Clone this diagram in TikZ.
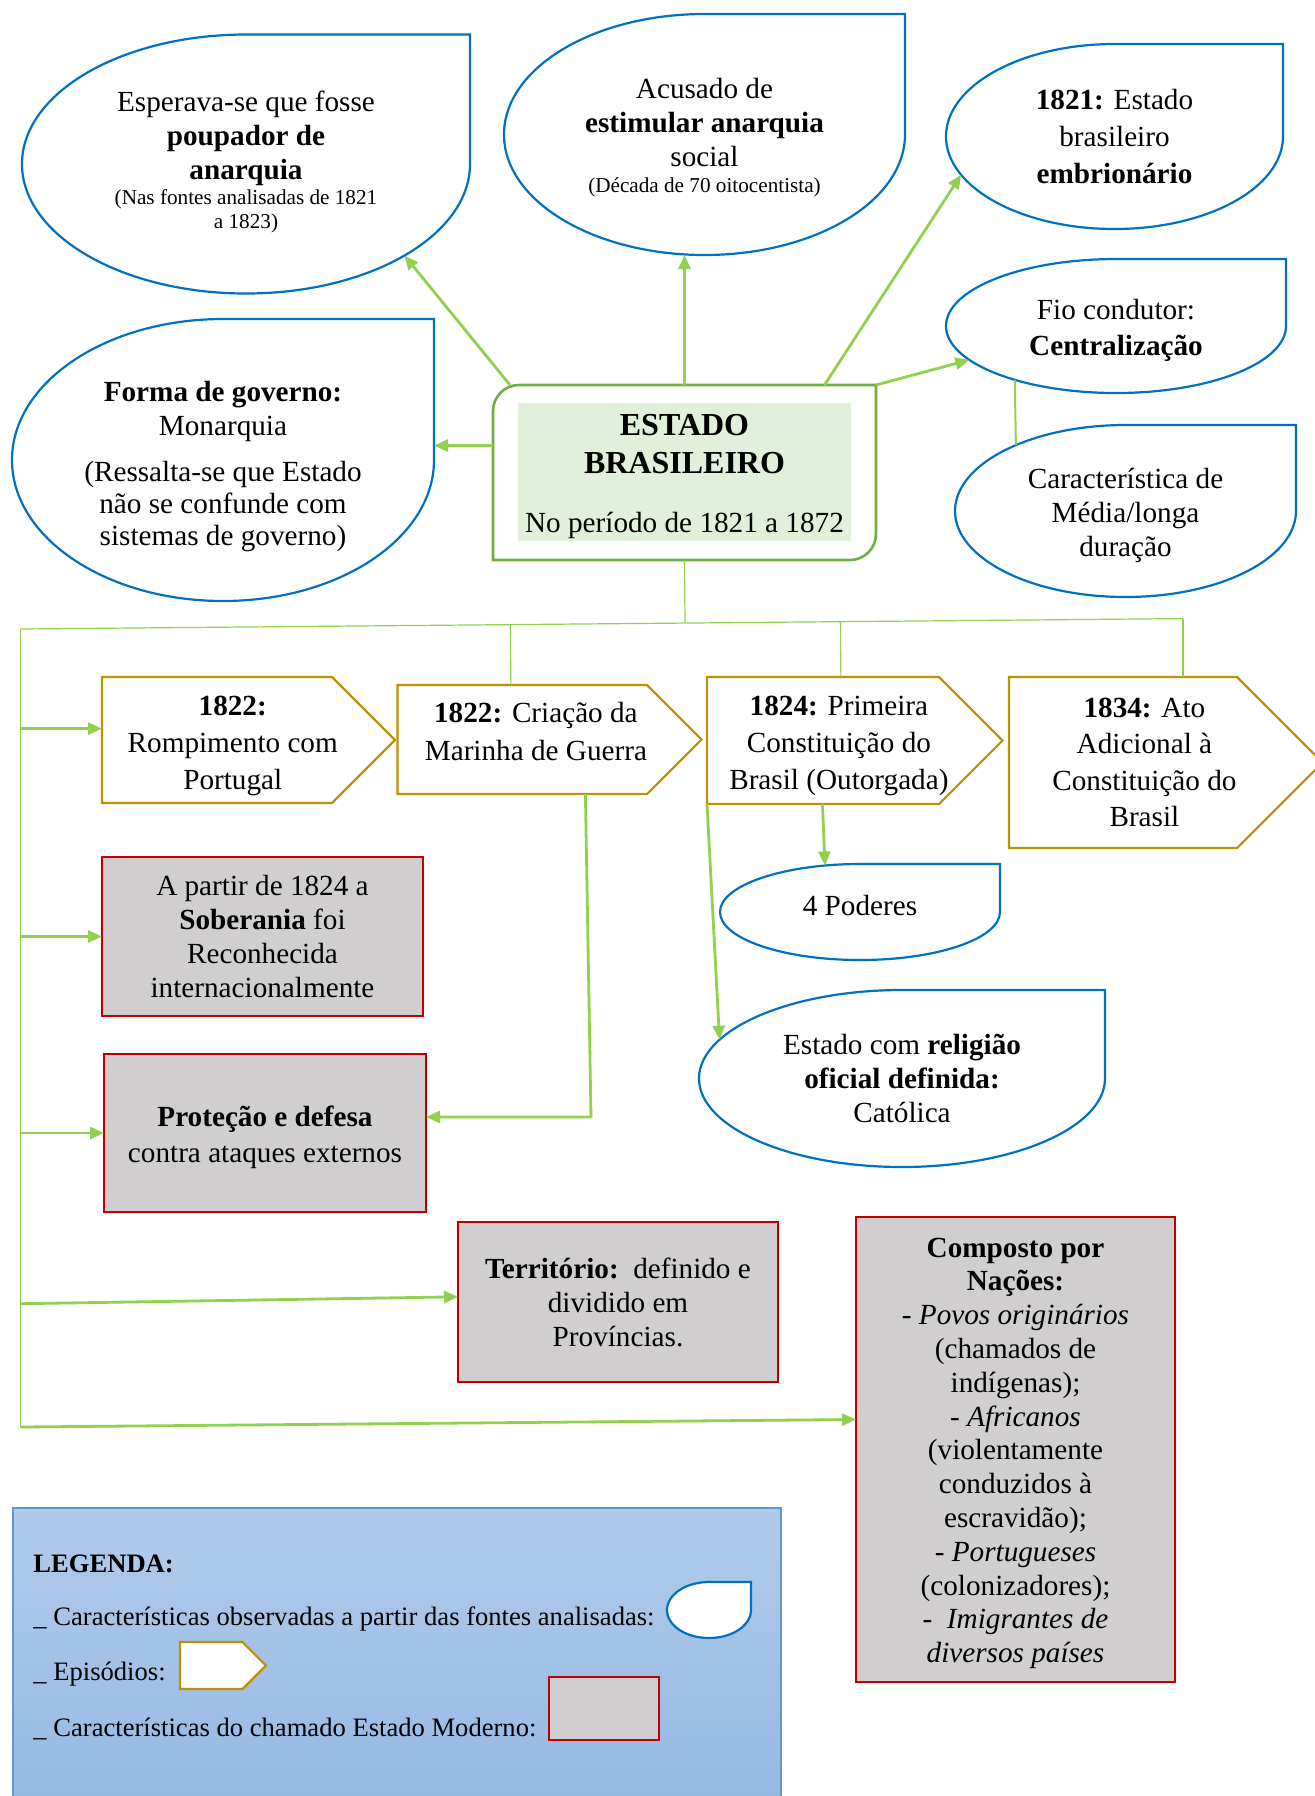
\documentclass[tikz,border=0pt]{standalone}
\usepackage{fontspec}
\setmainfont{Liberation Serif}
\usetikzlibrary{shapes.geometric, arrows.meta, calc}

\definecolor{azul}{HTML}{0070C0}
\definecolor{verdeseta}{HTML}{92D050}
\definecolor{verdeborda}{HTML}{70AD47}
\definecolor{verdeclaro}{HTML}{E2EFDA}
\definecolor{ouro}{HTML}{BF9000}
\definecolor{vermelho}{HTML}{C00000}
\definecolor{cinza}{HTML}{D0CECE}
\definecolor{legtopo}{HTML}{B2CBEA}
\definecolor{legbase}{HTML}{95B9E3}
\definecolor{legborda}{HTML}{5B9BD5}

\newcommand{\textonormal}{\fontsize{14.6}{17}\selectfont}
\newcommand{\textopequeno}{\fontsize{10.6}{12.2}\selectfont}
\newcommand{\textotitulo}{\fontsize{16}{19}\selectfont\bfseries}
% apoios invisiveis para acertar a altura do texto
\newcommand{\topo}[1]{\rule{0pt}{#1}}
\newcommand{\fundo}[1]{\rule[-#1]{0pt}{#1}}

% contorno em gota: 3/4 de elipse com canto reto
\newcommand{\gotaborda}[2][]{%
  \draw[borda, #1] let \p1=(#2.east), \p2=(#2.north), \p3=(#2.center) in
    (\p1) arc[start angle=0, end angle=-270, x radius={\x1-\x3}, y radius={\y2-\y3}]
    -- (\x1,\y2) -- cycle;}
% contorno de episodio (seta pentagonal)
\newcommand{\episodioborda}[2][]{%
  \draw[episodio borda, #1] let \p1=(#2.north west), \p2=(#2.south east),
      \n1={(\y1-\y2)/4} in
    (\p1) -- (\x2-\n1,\y1) -- (\x2+\n1,{(\y1+\y2)/2}) -- (\x2-\n1,\y2) -- (\x1,\y2) -- cycle;}

\begin{document}
\begin{tikzpicture}[
    x=0.5pt, y=-0.5pt,
    >={Triangle[length=7pt,width=6pt]},
    gota/.style={ellipse, inner sep=0pt, outer sep=0pt, align=center, font=\textonormal},
    borda/.style={draw=azul, line width=1.1pt},
    episodio/.style={rectangle, inner sep=0pt, outer sep=0pt, align=center, font=\textonormal},
    episodio borda/.style={draw=ouro, line width=1.1pt},
    moderno/.style={rectangle, draw=vermelho, fill=cinza, line width=1.2pt,
                    inner sep=2pt, outer sep=0pt, align=center, font=\textonormal},
    seta/.style={->, draw=verdeseta, line width=1.4pt},
    ramo/.style={draw=verdeseta, line width=0.6pt},
    legtexto/.style={anchor=west, inner sep=0pt, font=\fontsize{13.3}{16}\selectfont}
  ]
    \useasboundingbox (0,0) rectangle (1314,1796);

    % caracteristicas (gotas)
    \node[gota, minimum width=224pt, minimum height=129.5pt] (esperava) at (246,164)
      {Esperava-se que fosse\\\textbf{poupador de}\\\textbf{anarquia}\\[-4.4pt]{\textopequeno (Nas fontes analisadas de 1821}\\[-5pt]{\textopequeno a 1823)\fundo{4.6pt}}};
    \node[gota, minimum width=200.5pt, minimum height=120.5pt] (acusado) at (704.5,134.5)
      {\topo{13.4pt}Acusado de\\\textbf{estimular anarquia}\\social\\[-4.3pt]{\textopequeno (Década de 70 oitocentista)}};
    \node[gota, minimum width=168.5pt, minimum height=92.5pt] (embrionario) at (1114.5,136.5)
      {\textbf{1821:} Estado\\[1.3pt]brasileiro\\[1.3pt]\textbf{embrionário}};
    \node[gota, minimum width=170pt, minimum height=67pt] (fio) at (1116,326)
      {\topo{14.6pt}Fio condutor:\\[0.7pt]\textbf{Centralização}};
    \node[gota, minimum width=170.5pt, minimum height=86pt] (caract) at (1125.5,511)
      {\topo{14.6pt}Característica de\\Média/longa\\duração};
    \node[gota, minimum width=211pt, minimum height=141pt] (forma) at (223,460)
      {\topo{16.9pt}\textbf{Forma de governo:}\\Monarquia\\[6pt](Ressalta-se que Estado\\[-1pt]não se confunde com\\[-1pt]sistemas de governo)};
    \node[gota, minimum width=140pt, minimum height=48pt] (poderes) at (860,912) {4 Poderes\fundo{6.9pt}};
    \node[gota, minimum width=203pt, minimum height=88.5pt] (religiao) at (902,1078.5)
      {Estado com \textbf{religião}\\\textbf{oficial definida:}\\Católica};
    \foreach \g in {esperava, acusado, embrionario, fio, caract, forma, poderes, religiao}
      {\gotaborda{\g}}

    % no central
    \node[minimum width=191.5pt, minimum height=87.5pt, inner sep=0pt, outer sep=0pt] (estado) at (684.5,472.5) {};
    \node[fill=verdeclaro, minimum width=166.5pt, minimum height=69pt, inner sep=0pt,
          align=center, font=\textonormal] (titulo) at (684.5,472)
      {\topo{15pt}{\textotitulo ESTADO}\\[2pt]{\textotitulo BRASILEIRO}\\[12.7pt]No período de 1821 a 1872};
    \draw[verdeborda, line width=1.3pt] (estado.south west) -- ([yshift=-13pt]estado.north west)
      arc[start angle=180, end angle=90, radius=13pt] -- (estado.north east)
      -- ([yshift=13pt]estado.south east) arc[start angle=0, end angle=-90, radius=13pt] -- cycle;

    % episodios
    \node[episodio, minimum width=130.75pt, minimum height=63pt] (rompimento) at (232.75,740)
      {\topo{15.7pt}\textbf{1822:}\\[1.3pt]Rompimento com\\[1.3pt]Portugal};
    \node[episodio, minimum width=138.4pt, minimum height=54.5pt] (marinha) at (535.9,739.5)
      {\textbf{1822:} Criação da\\[2pt]Marinha de Guerra\fundo{8pt}};
    \node[episodio, minimum width=131.9pt, minimum height=63.5pt] (constituicao) at (838.9,740.5)
      {\topo{15.1pt}\textbf{1824:} Primeira\\[1.3pt]Constituição do\\[1.3pt]Brasil (Outorgada)};
    \node[episodio, minimum width=135.4pt, minimum height=85.5pt] (ato) at (1144.4,762.5)
      {\textbf{1834:} Ato\\[1.1pt]Adicional à\\[1.1pt]Constituição do\\[1.1pt]Brasil};
    \foreach \e in {rompimento, marinha, constituicao, ato}
      {\episodioborda{\e}}

    % estado moderno
    \node[moderno, minimum width=160.5pt, minimum height=79.5pt] (soberania) at (262.5,936.5)
      {A partir de 1824 a\\\textbf{Soberania} foi\\Reconhecida\\internacionalmente};
    \node[moderno, minimum width=161pt, minimum height=79pt] (protecao) at (265,1133)
      {\topo{14.6pt}\textbf{Proteção e defesa}\\[1.3pt]contra ataques externos};
    \node[moderno, minimum width=160pt, minimum height=80pt] (territorio) at (618,1302)
      {\textbf{Território:}\ \ definido e\\dividido em\\Províncias.};
    \node[moderno, minimum width=159.5pt, minimum height=232.5pt, font=\fontsize{14.6}{16.9}\selectfont] (composto) at (1015.5,1449.5)
      {\topo{13.4pt}\textbf{Composto por}\\\textbf{Nações:}\\- \textit{Povos originários}\\(chamados de\\indígenas);\\- \textit{Africanos}\\(violentamente\\conduzidos à\\escravidão);\\- \textit{Portugueses}\\(colonizadores);\\-\ \ \textit{Imigrantes de}\\\textit{diversos países}};

    % ligacoes do no central
    \draw[seta] ([xshift=8.5pt]estado.north west) -- (esperava.-30);
    \draw[seta] (estado.north) -- (estado.north |- acusado.south);
    \draw[seta] ([xshift=70pt]estado.north) -- (embrionario.194);
    \draw[seta] (estado.north east) -- (fio.193);
    \coordinate (f0) at ([yshift=13.5pt]estado.west);
    \draw[seta] (f0) -- (f0 -| forma.east);
    \draw[ramo, line width=1pt] (fio.208) -- (caract.149);

    % arvore inferior
    \coordinate (esq) at (20.6,629);
    \coordinate (dir) at (1183,618.6);
    \coordinate (base) at (20.6,1427);
    \draw[ramo] (esq) -- (dir);
    \draw[ramo] (esq) -- (base);
    \draw[ramo] (estado.south) -- ($(esq)!(estado.south)!(dir)$);
    \draw[ramo] ([xshift=-12.5pt]marinha.north) -- ($(esq)!([xshift=-12.5pt]marinha.north)!(dir)$);
    \draw[ramo] ([xshift=1pt]constituicao.north) -- ($(esq)!([xshift=1pt]constituicao.north)!(dir)$);
    \draw[ramo] (dir) -- (dir |- ato.north);

    \coordinate (r1) at ([yshift=5.7pt]rompimento.west);
    \draw[seta] (r1 -| esq) -- (r1);
    \draw[seta] (soberania.west -| esq) -- (soberania.west);
    \draw[seta] (protecao.west -| esq) -- (protecao.west);
    \coordinate (t0) at ([yshift=-0.85pt]territorio.west);
    \coordinate (t1) at ([yshift=2.6pt]territorio.west);
    \draw[seta] (t0 -| esq) -- (t1);
    \draw[seta] (base) -- ([yshift=15pt]composto.west);

    \coordinate (dobra) at (591,1117);
    \draw[seta] ([xshift=24.75pt]marinha.south) -- (dobra) -- (dobra -| protecao.east);
    \draw[seta] ([xshift=-8.2pt]constituicao.south) -- (poderes.127);
    \draw[seta] (constituicao.south west) -- (religiao.168);

    % legenda
    \node[draw=legborda, line width=0.6pt, top color=legtopo, bottom color=legbase,
          minimum width=384pt, minimum height=146pt, inner sep=0pt] (legenda) at (397,1654) {};
    \node[legtexto, font=\fontsize{13.3}{16}\selectfont\bfseries] (legtitulo) at (33,1564) {LEGENDA:};
    \node[legtexto] (leg1) at (33,1618.5) {\_ Características observadas a partir das fontes analisadas:};
    \node[legtexto] (leg2) at (33,1674) {\_ Episódios:};
    \node[legtexto] (leg3) at (33,1728.5) {\_ Características do chamado Estado Moderno:};
    \node[gota, minimum width=42pt, minimum height=28pt] (leggota) at (709,1610) {};
    \gotaborda[fill=white]{leggota}
    \node[episodio, minimum width=37.1pt, minimum height=23.5pt] (legepisodio) at (217.1,1665.5) {};
    \episodioborda[fill=white]{legepisodio}
    \node[moderno, minimum width=55pt, minimum height=31.5pt] (legmoderno) at (604,1708.5) {};
  \end{tikzpicture}
\end{document}
